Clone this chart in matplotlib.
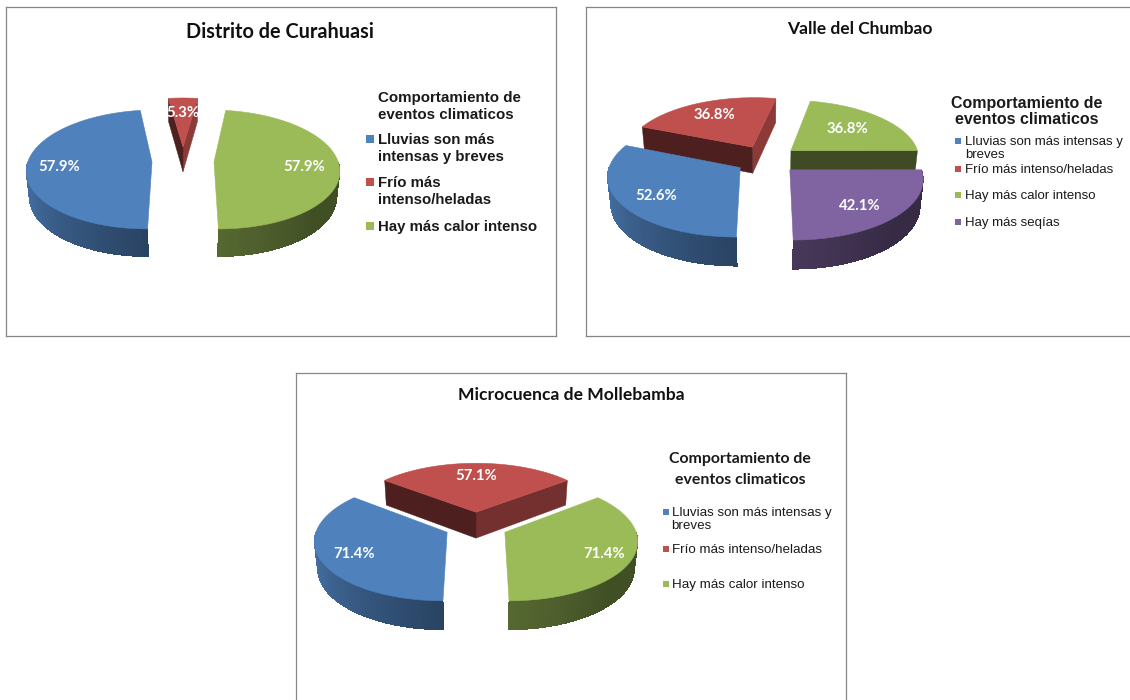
import numpy as np
import matplotlib
matplotlib.use('Agg')
import matplotlib.pyplot as plt
from matplotlib.colors import to_rgb
from matplotlib.patches import Polygon

W, H = 1130, 700

# data
titles = ['Distrito de Curahuasi', 'Valle del Chumbao', 'Microcuenca de Mollebamba']
legend_title = ['Comportamiento de', 'eventos climaticos']
lluvias = [57.9, 52.6, 71.4]
frio = [5.3, 36.8, 57.1]
calor = [57.9, 36.8, 71.4]
sequias = [None, 42.1, None]

names_curahuasi = ['Lluvias son más\nintensas y breves', 'Frío más\nintenso/heladas', 'Hay más calor intenso']
names_chumbao = ['Lluvias son más intensas y\nbreves', 'Frío más intenso/heladas', 'Hay más calor intenso', 'Hay más seqías']
names_mollebamba = ['Lluvias son más intensas y\nbreves', 'Frío más intenso/heladas', 'Hay más calor intenso']

blue, red, green, purple = '#4F81BD', '#C0504D', '#9BBB59', '#8064A2'
colors = [blue, red, green, purple]

P = 0.125  # perspective strength
Q = 0.02


def shade(color, f):
    return tuple(c * f for c in to_rgb(color))


def curve_shade(phi):
    phi = phi % 360
    if phi < 270 and phi >= 180:
        return 0.93 + (0.52 - 0.93) * (phi - 180) / 90
    if phi < 315 and phi >= 270:
        return 0.56 + (0.42 - 0.56) * (phi - 270) / 45
    return 0.42


def draw_pie(ax, values, cols, cx, cy, R, k, depth, expl, nudge, label_r=0.72):
    # the pie gives the angles and the exploded centres, drawn below in 3D
    wedges, _ = ax.pie(values, explode=[expl] * len(values), startangle=270, counterclock=False, radius=1)
    for w in wedges:
        w.set_visible(False)

    def project(x, y, low=0):
        s = 1 / (1 + P * y + Q * low)
        return cx + x * R * s, cy - y * k * R * s + low * depth * s

    def arc(w, t):
        a = np.radians(t)
        return w.center[0] + np.cos(a), w.center[1] + np.sin(a)

    order = sorted(range(len(values)), key=lambda i: -wedges[i].center[1])
    for i in order:
        w = wedges[i]
        col = cols[i]
        c0 = w.center
        # flat cut faces
        for t, n in [(w.theta1, w.theta1 - 90), (w.theta2, w.theta2 + 90)]:
            if np.sin(np.radians(n)) < -0.02:
                e = arc(w, t)
                pts = [project(*c0), project(*e), project(*e, 1), project(*c0, 1)]
                f = 0.40 + 0.33 * max(np.cos(np.radians(n)), 0)
                ax.add_patch(Polygon(pts, fc=shade(col, f), ec=shade(col, f), lw=0.3))
        # round outer wall, in small steps for the shading
        steps = np.arange(w.theta1, w.theta2 + 2, 2.0)
        steps[-1] = w.theta2
        for a, b in zip(steps[:-1], steps[1:]):
            m = (a + b) / 2
            if np.sin(np.radians(m)) < 0:
                pa, pb = arc(w, a), arc(w, b)
                pts = [project(*pa), project(*pb), project(*pb, 1), project(*pa, 1)]
                f = curve_shade(m)
                ax.add_patch(Polygon(pts, fc=shade(col, f), ec='none', lw=0, antialiased=False))
        # top face
        ts = np.linspace(w.theta1, w.theta2, 80)
        pts = [project(*c0)] + [project(*arc(w, t)) for t in ts]
        ax.add_patch(Polygon(pts, fc=col, ec=col, lw=0.4))
    # value labels on top
    for i, w in enumerate(wedges):
        a = np.radians((w.theta1 + w.theta2) / 2)
        x, y = project(w.center[0] + label_r * np.cos(a), w.center[1] + label_r * np.sin(a))
        ax.text(x + nudge[i][0], y + nudge[i][1], '%.1f%%' % values[i], color='white', fontsize=10.7,
                fontweight='bold', family='Lato', ha='center', va='center')


def panel(x0, y0, x1, y1):
    return fig.add_axes([x0 / W, 1 - y1 / H, (x1 - x0) / W, (y1 - y0) / H])


def finish(ax, x0, y0, x1, y1):
    ax.set_aspect('auto')
    ax.set_xlim(x0, x1)
    ax.set_ylim(y1, y0)
    ax.set_frame_on(True)
    ax.set_xticks([])
    ax.set_yticks([])
    for s in ax.spines.values():
        s.set_visible(True)
        s.set_color('#868686')
        s.set_linewidth(0.9)


def legend_items(ax, names, cols, xs, xt, ys, size, weight='normal', gap=1.0):
    for name, col, y in zip(names, cols, ys):
        ax.scatter([xs], [y], marker='s', s=size * 2.6, color=col, linewidths=0)
        ax.text(xt, y - 0.4 * size * 1.39, name, fontsize=size, fontweight=weight, family='Liberation Sans',
                va='top', ha='left', color='#1a1a1a', linespacing=gap)


fig = plt.figure(figsize=(W / 100, H / 100), dpi=100)

# Distrito de Curahuasi
ax = panel(5.5, 6.5, 555.5, 336)
draw_pie(ax, [lluvias[0], frio[0], calor[0]], colors[:3], 183, 161, 124, 0.47, 26, 0.25,
         [(-3, 2), (0, 2), (0, 2)])
finish(ax, 5.5, 6.5, 555.5, 336)
ax.text(279.5, 31.5, titles[0], fontsize=14.3, fontweight='bold', family='Lato', ha='center', va='center', color='#111111')
ax.text(378, 106.5, legend_title[0] + '\n' + legend_title[1], fontsize=10.9, family='Liberation Sans', fontweight='bold',
        ha='left', va='center', color='#1a1a1a', linespacing=1.2)
legend_items(ax, names_curahuasi, colors[:3], 369.5, 378, [139, 182, 226], 10.8, 'bold', 1.3)

# Valle del Chumbao
ax = panel(585.5, 6.5, 1140, 336)
draw_pie(ax, [lluvias[1], frio[1], calor[1], sequias[1]], colors, 767, 159.5, 129, 0.454, 27, 0.245,
         [(0, 3), (0, 1), (-9, 3), (-3, 3)])
finish(ax, 585.5, 6.5, 1140, 336)
ax.text(859.5, 29, titles[1], fontsize=12.5, fontweight='bold', family='Lato', ha='center', va='center', color='#111111')
ax.text(1027, 111.5, legend_title[0] + '\n' + legend_title[1], fontsize=11.5, family='Liberation Sans', fontweight='bold',
        ha='center', va='center', color='#1a1a1a', linespacing=1.15)
legend_items(ax, names_chumbao, colors, 958, 965, [141, 169, 195, 222], 9.5, 'normal', 1.18)

# Microcuenca de Mollebamba
ax = panel(295.5, 373, 846, 710)
draw_pie(ax, [lluvias[2], frio[2], calor[2]], colors[:3], 476, 526, 129.5, 0.45, 27, 0.244,
         [(-3, 2), (0, 0), (9, 2)])
finish(ax, 295.5, 373, 846, 710)
ax.text(571, 395.5, titles[2], fontsize=12.6, fontweight='bold', family='Lato', ha='center', va='center', color='#111111')
ax.text(740, 469.5, legend_title[0] + '\n' + legend_title[1], fontsize=11.4, family='Lato', fontweight='bold',
        ha='center', va='center', color='#1a1a1a', linespacing=1.55)
legend_items(ax, names_mollebamba, colors[:3], 666, 671.5, [512, 549, 584], 9.6, 'normal', 1.18)

fig.savefig('out.png', dpi=100)
